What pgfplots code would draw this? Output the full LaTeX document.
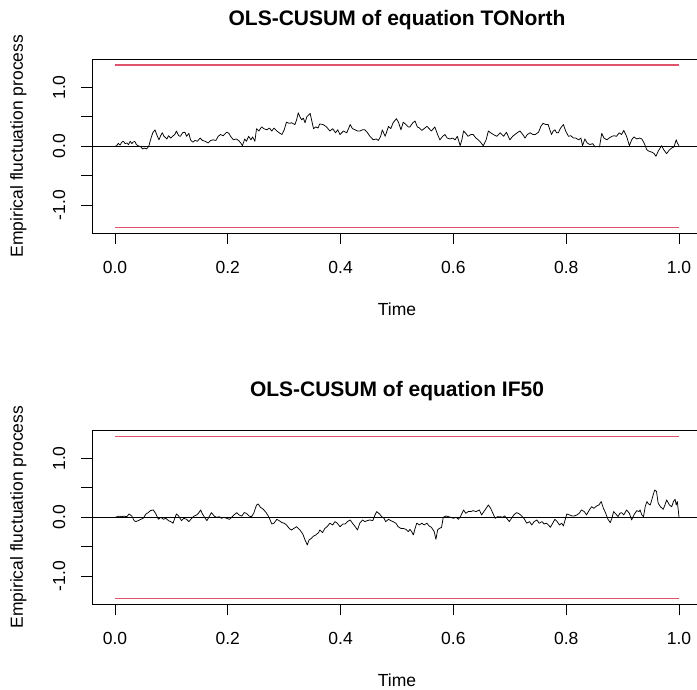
\documentclass[border=0pt]{standalone}
\usepackage{pgfplots}
\pgfplotsset{compat=1.18}
\usepackage{fontspec}
\setmainfont{Liberation Sans}
\definecolor{rred}{HTML}{DF536B}

\pgfplotsset{
  cusum/.style={
    scale only axis,
    width=609.2pt, height=174pt,
    xmin=-0.04, xmax=1.04,
    ymin=-1.48, ymax=1.48,
    axis line style={black, line width=0.9pt},
    tick style={black, line width=0.9pt},
    tick align=outside,
    major tick length=11pt,
    xtick pos=bottom, ytick pos=left,
    xtick={0,0.2,0.4,0.6,0.8,1},
    xticklabels={0.0,0.2,0.4,0.6,0.8,1.0},
    ytick={-1,-0.5,0,0.5,1},
    yticklabels={-1.0,,0.0,,1.0},
    ticklabel style={font=\fontsize{17.5}{20}\selectfont},
    xticklabel style={anchor=base, yshift=-29pt},
    yticklabel style={xshift=-16.4pt, rotate=90, anchor=base},
    label style={font=\fontsize{17.5}{20}\selectfont},
    xlabel={Time},
    xlabel style={at={(axis description cs:0.5,-0.47126)}, anchor=base},
    ylabel={Empirical fluctuation process},
    ylabel style={at={(axis description cs:-0.11392,0.5)}, rotate=0, anchor=base},
    title style={at={(axis description cs:0.5,1.161)}, anchor=base, font=\fontsize{21}{24}\selectfont\bfseries},
    bound/.style={draw=rred, color=rred, line width=1.6pt},
  }
}

\begin{document}
\begin{tikzpicture}
\begin{axis}[cusum, at={(92.4pt,-233.3pt)}, anchor=south west,
  title={OLS-CUSUM of equation TONorth}]
\addplot[bound] coordinates {(0,1.378)(1,1.378)};
\addplot[bound] coordinates {(0,-1.378)(1,-1.378)};
\addplot[black, line width=0.9pt] coordinates {(-0.04,0)(1.04,0)};
\addplot[black, line width=0.75pt, line join=round] coordinates {
(0.000,0)(0.003,0.01)(0.006,0.05)(0.009,0.02)(0.012,0.07)(0.015,0.085)(0.018,0.045)(0.021,0.057)(0.024,0.03)(0.027,0.085)
(0.030,0.045)(0.032,0.07)(0.035,0.085)(0.038,0.03)(0.041,0.01)(0.046,-0.01)(0.049,-0.045)(0.053,-0.03)(0.056,-0.045)(0.060,0)
(0.063,0.11)(0.067,0.23)(0.071,0.28)(0.074,0.20)(0.078,0.11)(0.081,0.18)(0.084,0.23)(0.087,0.17)(0.092,0.125)(0.095,0.18)
(0.099,0.14)(0.102,0.17)(0.106,0.20)(0.109,0.26)(0.113,0.18)(0.116,0.17)(0.120,0.23)(0.124,0.24)(0.127,0.17)(0.131,0.22)
(0.134,0.11)(0.138,0.07)(0.142,0.10)(0.146,0.085)(0.151,0.14)(0.155,0.10)(0.160,0.085)(0.165,0.057)(0.170,0.10)(0.174,0.11)
(0.179,0.10)(0.183,0.17)(0.187,0.20)(0.192,0.18)(0.198,0.24)(0.202,0.22)(0.205,0.17)(0.210,0.11)(0.215,0.125)(0.219,0.10)
(0.223,0.057)(0.226,0.01)(0.230,0.125)(0.233,0.085)(0.237,0.17)(0.241,0.11)(0.244,0.16)(0.248,0.085)(0.251,0.30)(0.255,0.26)
(0.260,0.33)(0.264,0.30)(0.269,0.28)(0.274,0.31)(0.278,0.26)(0.282,0.31)(0.287,0.26)(0.291,0.23)(0.296,0.20)(0.300,0.28)
(0.304,0.41)(0.309,0.39)(0.313,0.40)(0.319,0.37)(0.322,0.45)(0.325,0.57)(0.328,0.50)(0.331,0.45)(0.334,0.48)(0.337,0.40)
(0.340,0.50)(0.346,0.56)(0.349,0.43)(0.352,0.30)(0.356,0.33)(0.360,0.31)(0.363,0.38)(0.369,0.37)(0.375,0.33)(0.381,0.26)
(0.386,0.30)(0.391,0.23)(0.395,0.28)(0.399,0.20)(0.405,0.26)(0.411,0.23)(0.417,0.37)(0.421,0.30)(0.426,0.28)(0.430,0.26)
(0.434,0.26)(0.439,0.28)(0.443,0.28)(0.447,0.24)(0.452,0.17)(0.458,0.11)(0.463,0.125)(0.467,0.10)(0.471,0.17)(0.474,0.28)
(0.479,0.17)(0.485,0.34)(0.489,0.30)(0.493,0.40)(0.499,0.47)(0.503,0.40)(0.507,0.28)(0.511,0.41)(0.516,0.37)(0.520,0.33)
(0.523,0.33)(0.528,0.40)(0.532,0.43)(0.536,0.33)(0.540,0.31)(0.544,0.27)(0.548,0.30)(0.553,0.34)(0.557,0.30)(0.561,0.26)
(0.567,0.33)(0.572,0.20)(0.576,0.11)(0.581,0.17)(0.585,0.20)(0.589,0.14)(0.594,0.125)(0.599,0.14)(0.603,0.11)(0.607,0.17)
(0.612,0.01)(0.615,0.11)(0.618,0.26)(0.622,0.22)(0.626,0.17)(0.631,0.20)(0.635,0.20)(0.640,0.14)(0.644,0.11)(0.648,0.07)
(0.653,0.01)(0.658,0.11)(0.662,0.26)(0.666,0.23)(0.671,0.20)(0.677,0.17)(0.683,0.23)(0.689,0.17)(0.694,0.24)(0.700,0.11)
(0.705,0.17)(0.709,0.20)(0.713,0.23)(0.718,0.26)(0.723,0.20)(0.727,0.14)(0.731,0.20)(0.736,0.23)(0.741,0.20)(0.745,0.20)
(0.751,0.24)(0.755,0.34)(0.759,0.39)(0.764,0.37)(0.768,0.37)(0.771,0.28)(0.774,0.20)(0.777,0.26)(0.780,0.28)(0.783,0.23)
(0.786,0.23)(0.790,0.31)(0.795,0.37)(0.799,0.26)(0.804,0.17)(0.808,0.18)(0.813,0.14)(0.817,0.14)(0.822,0.11)(0.826,0.14)
(0.829,0.01)(0.833,0.125)(0.837,0.057)(0.842,0.03)(0.847,0.045)(0.851,-0.01)(0.855,0)(0.859,-0.01)(0.863,0.22)(0.867,0.14)
(0.872,0.11)(0.876,0.14)(0.881,0.17)(0.885,0.18)(0.889,0.17)(0.894,0.23)(0.898,0.20)(0.902,0.27)(0.907,0.17)(0.912,0.01)
(0.916,0.11)(0.920,0.16)(0.925,0.125)(0.930,0.14)(0.934,0.125)(0.938,0.057)(0.943,-0.06)(0.947,-0.085)(0.952,-0.10)(0.956,-0.125)
(0.959,-0.17)(0.963,-0.085)(0.969,0.01)(0.973,-0.06)(0.978,-0.125)(0.983,-0.06)(0.987,-0.03)(0.991,-0.01)(0.995,0.11)(0.997,0.057)
(1.000,0.01)
};
\end{axis}

\begin{axis}[cusum, at={(92.4pt,-604.3pt)}, anchor=south west,
  title={OLS-CUSUM of equation IF50}]
\addplot[bound] coordinates {(0,1.378)(1,1.378)};
\addplot[bound] coordinates {(0,-1.378)(1,-1.378)};
\addplot[black, line width=0.9pt] coordinates {(-0.04,0)(1.04,0)};
\addplot[black, line width=0.75pt, line join=round] coordinates {
(0.000,0)(0.004,0.01)(0.008,0.02)(0.012,0.01)(0.016,0.02)(0.021,0.01)(0.025,0.057)(0.030,0.02)(0.034,-0.057)(0.037,-0.074)
(0.041,-0.057)(0.046,-0.034)(0.050,-0.017)(0.055,0.057)(0.059,0.08)(0.063,0.114)(0.068,0.125)(0.072,0.068)(0.077,-0.034)(0.081,0)
(0.086,-0.034)(0.090,-0.017)(0.095,-0.057)(0.099,-0.074)(0.103,-0.10)(0.106,-0.017)(0.109,0.057)(0.113,0.02)(0.118,-0.057)(0.122,-0.017)
(0.127,-0.034)(0.131,-0.074)(0.136,-0.017)(0.140,0.02)(0.145,0.04)(0.148,0.068)(0.152,0.125)(0.155,0.057)(0.160,-0.017)(0.163,-0.057)
(0.167,0.01)(0.171,0.08)(0.176,0.02)(0.180,0)(0.185,0.01)(0.189,-0.017)(0.193,0)(0.198,-0.017)(0.203,-0.034)(0.207,0)
(0.211,0.04)(0.216,0.08)(0.220,0.04)(0.225,0.02)(0.229,0.08)(0.233,0.068)(0.238,0.02)(0.242,0.01)(0.246,0.068)(0.251,0.21)
(0.254,0.227)(0.258,0.17)(0.263,0.136)(0.268,0.08)(0.272,0.02)(0.275,-0.045)(0.278,-0.114)(0.282,-0.10)(0.287,-0.034)(0.291,-0.057)
(0.296,-0.09)(0.300,-0.10)(0.304,-0.13)(0.309,-0.19)(0.313,-0.216)(0.317,-0.19)(0.322,-0.16)(0.325,-0.19)(0.328,-0.216)(0.333,-0.284)
(0.337,-0.386)(0.341,-0.47)(0.344,-0.386)(0.348,-0.36)(0.352,-0.32)(0.356,-0.30)(0.361,-0.26)(0.363,-0.216)(0.368,-0.26)(0.372,-0.19)
(0.376,-0.16)(0.381,-0.10)(0.386,-0.13)(0.390,-0.074)(0.394,-0.10)(0.399,-0.16)(0.404,-0.114)(0.408,-0.114)(0.412,-0.074)(0.417,-0.045)
(0.421,-0.10)(0.426,-0.16)(0.430,-0.216)(0.434,-0.10)(0.439,-0.045)(0.443,-0.074)(0.447,-0.057)(0.452,-0.045)(0.457,-0.057)(0.461,0.04)
(0.464,0.097)(0.469,0.057)(0.473,0.01)(0.477,-0.017)(0.480,-0.074)(0.485,-0.034)(0.489,-0.057)(0.493,-0.074)(0.498,-0.10)(0.502,-0.16)
(0.507,-0.19)(0.511,-0.19)(0.516,-0.205)(0.520,-0.244)(0.523,-0.205)(0.526,-0.244)(0.529,-0.30)(0.532,-0.19)(0.535,-0.10)(0.540,-0.13)
(0.544,-0.10)(0.548,-0.13)(0.553,-0.10)(0.557,-0.148)(0.561,-0.17)(0.566,-0.244)(0.569,-0.375)(0.572,-0.216)(0.575,-0.19)(0.579,-0.17)
(0.582,0)(0.587,0.023)(0.591,0.011)(0.595,0)(0.600,-0.017)(0.605,0)(0.609,-0.034)(0.613,0.023)(0.618,0.125)(0.622,0.068)
(0.626,0.097)(0.631,0.097)(0.635,0.114)(0.640,0.097)(0.646,0.125)(0.650,0.04)(0.654,0.097)(0.658,0.153)(0.662,0.21)(0.666,0.153)
(0.670,0.068)(0.674,-0.017)(0.678,0.011)(0.683,0.011)(0.687,0)(0.691,0.023)(0.696,-0.034)(0.699,-0.074)(0.703,-0.017)(0.707,0.04)
(0.712,0.08)(0.717,0.057)(0.721,0.023)(0.725,-0.017)(0.730,-0.10)(0.735,-0.074)(0.739,-0.13)(0.743,-0.074)(0.748,-0.045)(0.752,-0.10)
(0.757,-0.074)(0.761,-0.114)(0.765,-0.10)(0.770,-0.148)(0.772,-0.17)(0.776,-0.10)(0.780,-0.034)(0.784,-0.074)(0.788,-0.13)(0.792,-0.10)
(0.795,-0.148)(0.798,-0.045)(0.801,0.057)(0.806,0.04)(0.810,0.023)(0.814,0.023)(0.819,0.04)(0.823,0.068)(0.827,0.125)(0.832,0.097)
(0.836,0.04)(0.841,0.125)(0.845,0.18)(0.849,0.153)(0.854,0.193)(0.858,0.21)(0.862,0.267)(0.866,0.153)(0.870,0.068)(0.874,-0.034)
(0.878,-0.09)(0.881,-0.017)(0.884,0.097)(0.888,0.057)(0.892,0.011)(0.895,0.068)(0.898,0.08)(0.902,0.04)(0.907,0.125)(0.912,0.068)
(0.916,-0.045)(0.920,0.04)(0.925,0.114)(0.929,0.097)(0.931,0.125)(0.934,0.04)(0.937,0.011)(0.940,0.18)(0.943,0.267)(0.946,0.227)
(0.949,0.21)(0.952,0.307)(0.955,0.41)(0.957,0.466)(0.960,0.44)(0.963,0.24)(0.967,0.18)(0.972,0.136)(0.975,0.21)(0.978,0.295)
(0.983,0.21)(0.987,0.18)(0.990,0.267)(0.993,0.307)(0.995,0.21)(0.997,0.267)(1.000,0)
};
\end{axis}
\pgfresetboundingbox
\path (0pt,0pt) rectangle (697pt,-690pt);
\end{tikzpicture}
\end{document}
